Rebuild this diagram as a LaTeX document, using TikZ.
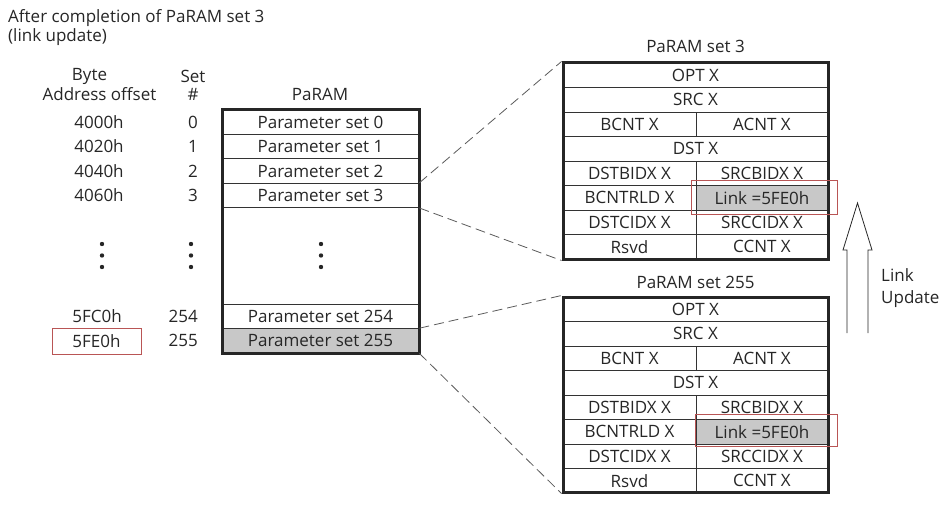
\documentclass[tikz,border=0pt]{standalone}
\usepackage{fontspec}
\setmainfont{Open Sans}
\definecolor{hlred}{RGB}{185,85,85}
\definecolor{cellgray}{RGB}{200,200,200}
\definecolor{dashgray}{RGB}{90,90,90}
\begin{document}
\begin{tikzpicture}[x=1pt,y=-1pt,
  every node/.style={font=\fontsize{17}{19}\selectfont, inner sep=0pt, text=black!85},
  lcell/.style={draw=black!80, line width=0.8pt, minimum width=197pt, minimum height=24.4pt},
  full/.style={draw=black!80, line width=0.8pt, minimum width=265pt, minimum height=24.5pt},
  lhalf/.style={draw=black!80, line width=0.8pt, minimum width=133pt, minimum height=24.5pt},
  rhalf/.style={draw=black!80, line width=0.8pt, minimum width=132pt, minimum height=24.5pt},
  frame/.style={draw=black!85, line width=3pt, minimum width=#1, fill=none},
  hlbox/.style={draw=hlred, line width=0.8pt},
  zoomline/.style={draw=dashgray, line width=0.8pt, dash pattern=on 10pt off 5pt}
]
\useasboundingbox (0,0) rectangle (943,508);

% title
\node[anchor=west] (t1) at (8,18) {After completion of PaRAM set 3};
\node[anchor=west] (t2) at (8,37) {(link update)};

% headers
\node (hbyte) at (89.5,76) {Byte};
\node (haddr) at (99.5,94) {Address offset};
\node (hset) at (193,76) {Set};
\node (hnum) at (193,94) {\#};
\node (hpar) at (320,94) {PaRAM};

% address / set columns
\node (a0) at (99,122.2) {4000h};
\node (a1) at (99,146.6) {4020h};
\node (a2) at (99,171.0) {4040h};
\node (a3) at (99,195.4) {4060h};
\node (a254) at (97,316.4) {5FC0h};
\node[hlbox, minimum width=89pt, minimum height=26pt] (a255) at (96.5,341) {5FE0h};
\node[anchor=east] (s0) at (198,122.2) {0};
\node[anchor=east] (s1) at (198,146.6) {1};
\node[anchor=east] (s2) at (198,171.0) {2};
\node[anchor=east] (s3) at (198,195.4) {3};
\node[anchor=east] (s254) at (198,316.4) {254};
\node[anchor=east] (s255) at (198,340.8) {255};

% PaRAM column
\node[lcell] (p0) at (320.5,122.2) {Parameter set 0};
\node[lcell] (p1) at (320.5,146.6) {Parameter set 1};
\node[lcell] (p2) at (320.5,171.0) {Parameter set 2};
\node[lcell] (p3) at (320.5,195.4) {Parameter set 3};
\node[lcell] (p254) at (320.5,316.4) {Parameter set 254};
\node[lcell, fill=cellgray] (p255) at (320.5,340.8) {Parameter set 255};
\node[frame=197pt, minimum height=243pt] (pbox) at (320.5,231.5) {};

% vertical dots
\foreach \x in {102,191,321}{
  \foreach \y in {244,255.5,267}{
    \fill[black!85] (\x,\y) circle (2.2pt);
  }
}

% --- PaRAM set 3
\node (b3title) at (695.5,46) {PaRAM set 3};
\begin{scope}[shift={(0,63)}]
  \node[full] (b3opt) at (695.5,12.25) {OPT X};
  \node[full] (b3src) at (695.5,36.75) {SRC X};
  \node[lhalf] (b3bcnt) at (629.5,61.25) {BCNT X};
  \node[rhalf] (b3acnt) at (762,61.25) {ACNT X};
  \node[full] (b3dst) at (695.5,85.75) {DST X};
  \node[lhalf] (b3dbidx) at (629.5,110.25) {DSTBIDX X};
  \node[rhalf] (b3sbidx) at (762,110.25) {SRCBIDX X};
  \node[lhalf] (b3bcntrld) at (629.5,134.75) {BCNTRLD X};
  \node[rhalf, fill=cellgray] (b3link) at (762,134.75) {Link =5FE0h};
  \node[lhalf] (b3dcidx) at (629.5,159.25) {DSTCIDX X};
  \node[rhalf] (b3scidx) at (762,159.25) {SRCCIDX X};
  \node[lhalf] (b3rsvd) at (629.5,183.75) {Rsvd};
  \node[rhalf] (b3ccnt) at (762,183.75) {CCNT X};
  \node[frame=265pt, minimum height=196pt] (b3) at (695.5,98) {};
\end{scope}
\node[hlbox, minimum width=146pt, minimum height=34pt] (hl3) at (764,197) {};

% --- PaRAM set 255
\node (b255title) at (695.5,282) {PaRAM set 255};
\begin{scope}[shift={(0,297)}]
  \node[full] (b5opt) at (695.5,12.25) {OPT X};
  \node[full] (b5src) at (695.5,36.75) {SRC X};
  \node[lhalf] (b5bcnt) at (629.5,61.25) {BCNT X};
  \node[rhalf] (b5acnt) at (762,61.25) {ACNT X};
  \node[full] (b5dst) at (695.5,85.75) {DST X};
  \node[lhalf] (b5dbidx) at (629.5,110.25) {DSTBIDX X};
  \node[rhalf] (b5sbidx) at (762,110.25) {SRCBIDX X};
  \node[lhalf] (b5bcntrld) at (629.5,134.75) {BCNTRLD X};
  \node[rhalf, fill=cellgray] (b5link) at (762,134.75) {Link =5FE0h};
  \node[lhalf] (b5dcidx) at (629.5,159.25) {DSTCIDX X};
  \node[rhalf] (b5scidx) at (762,159.25) {SRCCIDX X};
  \node[lhalf] (b5rsvd) at (629.5,183.75) {Rsvd};
  \node[rhalf] (b5ccnt) at (762,183.75) {CCNT X};
  \node[frame=265pt, minimum height=195pt] (b255) at (695.5,97.5) {};
\end{scope}
\node[hlbox, minimum width=142pt, minimum height=32pt] (hl255) at (766,430) {};

% zoom lines
\draw[zoomline] (p3.north east) -- (b3.north west);
\draw[zoomline] (p3.south east) -- (b3.south west);
\draw[zoomline] (p255.north east) -- (b255.north west);
\draw[zoomline] (p255.south east) -- (b255.south west);

% link update arrow
\draw[black!85, line width=0.8pt, fill=white]
  (847,333) -- (847,250) -- (843,250) -- (857.5,203) -- (872,250) -- (868,250) -- (868,333);
\node[anchor=west] (lu1) at (881,275) {Link};
\node[anchor=west] (lu2) at (881,299) {Update};
\end{tikzpicture}
\end{document}
